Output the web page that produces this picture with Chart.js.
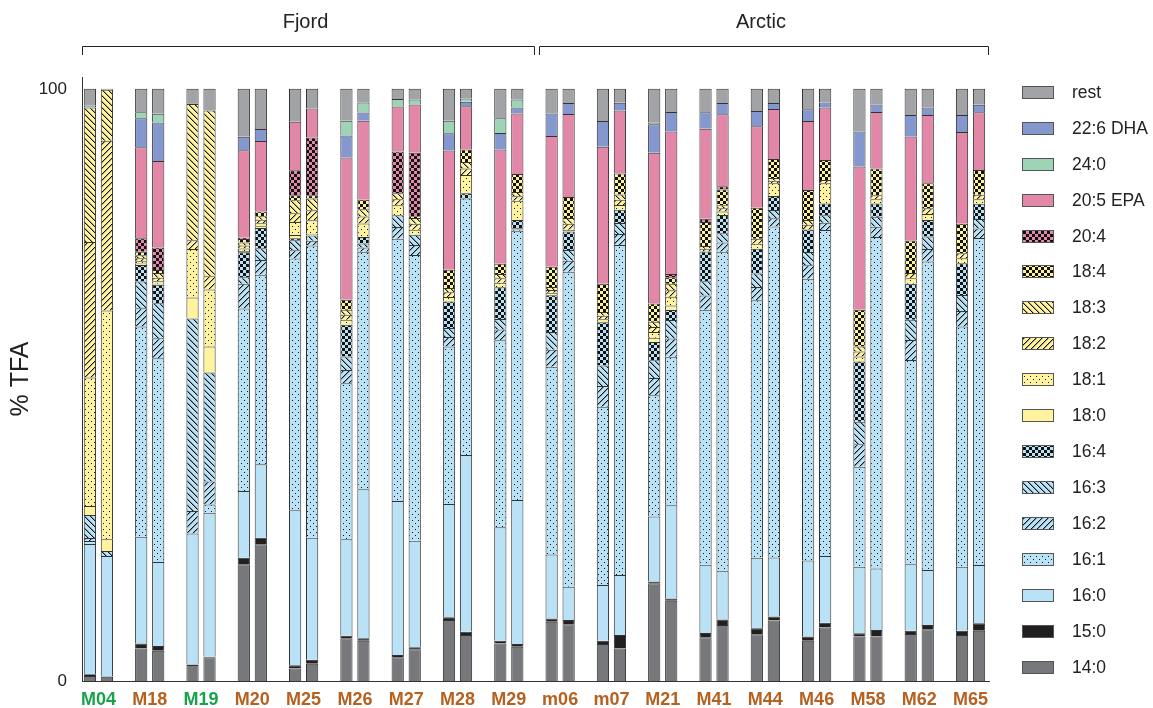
<!DOCTYPE html>
<html>
<head>
<meta charset="utf-8">
<script src="https://cdn.jsdelivr.net/npm/chart.js@4/dist/chart.umd.min.js"></script>
<style>
  html, body { margin: 0; padding: 0; background: #ffffff; }
  canvas { display: block; }
</style>
</head>
<body>
<canvas id="chart" width="1153" height="708"></canvas>
<script>
// Sample groups (two replicate bars each) and their label colours
const groups = ['M04','M18','M19','M20','M25','M26','M27','M28','M29',
                'm06','m07','M21','M41','M44','M46','M58','M62','M65'];
const groupColors = ['#16a34a','#b5611f','#16a34a','#b5611f','#b5611f','#b5611f','#b5611f','#b5611f','#b5611f',
                     '#b5611f','#b5611f','#b5611f','#b5611f','#b5611f','#b5611f','#b5611f','#b5611f','#b5611f'];
const regions = [
  { name: 'Fjord',  first: 0, last: 8 },
  { name: 'Arctic', first: 9, last: 17 }
];
const yTicks = [0, 100];

// % of total fatty acids; bar order: M04a, M04b, M18a, M18b, ... M65a, M65b
const fa14_0 = [0.85, 0.7, 5.5, 5.1, 2.7, 4.0, 19.7, 23.1, 2.1, 2.9, 7.2, 6.8, 4.0, 5.35, 10.3, 7.75, 6.35, 5.8,
                10.0, 9.6, 6.25, 5.5, 16.5, 13.55, 7.4, 9.45, 7.9, 10.2, 6.8, 9.05, 7.5, 7.5, 7.95, 8.75, 7.75, 8.5];
const fa15_0 = [0.3, 0.1, 0.85, 0.8, 0.1, 0.1, 1.1, 1.1, 0.55, 0.7, 0.45, 0.4, 0.4, 0.35, 0.45, 0.55, 0.45, 0.45,
                0.55, 0.7, 0.55, 2.25, 0.3, 0.4, 0.7, 0.95, 1.0, 0.7, 0.7, 0.8, 0.55, 1.1, 0.55, 0.7, 0.75, 1.25];
const fa16_0 = [22.0, 20.3, 18.0, 14.2, 22.1, 24.3, 11.3, 12.4, 26.2, 20.6, 16.3, 25.2, 26.0, 18.0, 19.15, 29.85, 19.15, 24.3,
                10.8, 5.6, 9.4, 10.15, 11.0, 15.75, 11.55, 8.2, 11.9, 9.95, 12.85, 11.25, 11.25, 10.4, 11.2, 9.3, 10.8, 9.85];
const fa16_1 = [0.5, 0, 35.5, 34.4, 0, 1.4, 30.8, 32.0, 42.5, 49.35, 26.35, 40.1, 44.3, 48.25, 26.6, 43.35, 31.6, 45.5,
                31.7, 53.2, 30.1, 55.75, 20.45, 25.05, 43.05, 53.9, 43.5, 55.9, 47.6, 55.05, 16.9, 56.0, 34.5, 52.1, 40.55, 55.2];
const fa16_2 = [0.5, 0, 3.1, 3.4, 3.8, 3.9, 4.2, 2.5, 1.4, 0.8, 2.2, 0.7, 1.95, 1.7, 1.6, 0, 1.8, 0.2,
                2.9, 1.85, 3.5, 1.85, 2.9, 3.1, 2.4, 1.55, 2.25, 1.4, 2.25, 1.25, 3.8, 1.7, 3.4, 2.1, 2.65, 1.6];
const fa16_3 = [3.9, 0.85, 4.5, 5.9, 32.5, 18.4, 1.1, 2.0, 1.7, 0.9, 2.3, 0.7, 2.0, 1.7, 1.5, 0, 1.8, 0.2,
                3.0, 1.85, 3.5, 1.85, 3.0, 3.1, 2.4, 1.55, 2.25, 1.4, 2.25, 1.25, 3.8, 1.7, 3.4, 2.1, 2.7, 1.6];
const fa16_4 = [0, 0, 2.8, 3.1, 0, 0, 4.2, 3.4, 0.3, 0, 5.35, 1.1, 0, 0, 4.5, 0.85, 5.35, 1.4,
                6.2, 3.1, 7.3, 2.25, 3.1, 1.7, 5.05, 3.1, 4.2, 2.35, 3.8, 2.0, 10.15, 2.25, 6.1, 2.8, 5.35, 2.6];
const fa18_0 = [1.5, 2.0, 0.25, 0.2, 3.55, 4.4, 0.2, 0.3, 0.55, 0.3, 0, 0, 0, 0, 0, 0, 0, 0,
                0, 0, 0, 0, 0.7, 0.75, 0, 0, 0, 0, 0, 0, 0, 0, 0, 0, 0, 0];
const fa18_1 = [21.7, 38.6, 0.4, 0.4, 8.2, 9.6, 0.45, 0.5, 2.2, 2.25, 0.85, 2.25, 1.7, 0.85, 0.75, 3.1, 0.75, 3.25,
                0.4, 0.3, 0.5, 0.8, 1.0, 1.5, 0, 0.6, 0.85, 2.15, 0, 3.4, 0.85, 0.7, 0.9, 1.0, 0.85, 0.75];
const fa18_2 = [22.9, 28.7, 0.5, 0.6, 1.5, 2.25, 0.5, 0.6, 1.5, 1.7, 0.85, 1.2, 1.0, 1.0, 0.8, 1.1, 0.75, 0.75,
                0.5, 1.0, 0.6, 0.85, 0.85, 1.1, 0.45, 0.55, 0.85, 0.45, 0.8, 0.55, 0.85, 0.7, 0.9, 1.0, 0.85, 0.75];
const fa18_3 = [22.7, 8.6, 0.5, 0.8, 23.0, 28.0, 0.5, 0.6, 2.2, 2.0, 0.85, 1.2, 1.0, 1.0, 0.7, 1.1, 0.75, 0.75,
                0.5, 1.0, 0.6, 0.9, 0.85, 1.1, 0.45, 0.5, 0, 0.45, 0.8, 0, 0.85, 0, 0, 0, 0, 0];
const fa18_4 = [0, 0, 0.6, 0.5, 0, 0, 0.6, 0.8, 0.85, 0.55, 1.7, 1.6, 0, 0.3, 3.1, 2.1, 1.7, 3.0,
                3.4, 3.55, 4.8, 3.55, 3.1, 1.1, 4.05, 2.65, 5.2, 3.2, 5.05, 3.4, 6.2, 4.5, 5.5, 4.2, 4.95, 4.2];
const fa20_4 = [0, 0, 2.25, 3.8, 0, 0, 0.2, 0, 4.2, 9.75, 0, 0, 7.05, 10.7, 0, 0, 0, 0,
                0, 0, 0, 0, 0, 0.55, 0.55, 0.55, 0, 0, 0, 0, 0, 0, 0, 0, 0, 0];
const fa20_5 = [0, 0, 15.4, 14.6, 0, 0, 14.8, 11.9, 8.2, 4.9, 24.0, 13.35, 7.6, 8.15, 20.15, 7.3, 19.3, 10.25,
                22.1, 14.0, 23.1, 10.65, 25.45, 24.05, 15.2, 12.15, 13.8, 8.45, 11.65, 8.85, 24.2, 9.55, 17.55, 11.55, 15.5, 9.75];
const fa22_6 = [0, 0, 4.9, 6.5, 0, 0, 2.25, 2.0, 0, 0, 3.7, 1.4, 0, 0, 2.9, 0.75, 2.8, 1.0,
                3.8, 1.85, 4.35, 1.3, 4.8, 3.3, 2.8, 1.9, 2.55, 1.0, 2.0, 0.85, 5.9, 1.25, 3.65, 1.25, 2.9, 1.25];
const fa24_0 = [0.3, 0, 1.0, 1.5, 0.1, 0, 0, 0, 0, 0, 2.5, 1.7, 1.3, 0.85, 2.1, 0.55, 2.5, 1.35,
                0, 0, 0, 0, 0.3, 0, 0, 0, 0, 0, 0, 0, 0, 0, 0, 0, 0, 0];
const faRest = [2.85, 0.15, 3.95, 4.2, 2.45, 3.65, 8.1, 6.8, 5.55, 3.3, 5.4, 2.3, 1.7, 1.8, 5.4, 1.65, 4.95, 1.8,
                4.15, 2.4, 5.45, 2.35, 5.7, 3.9, 3.95, 2.4, 3.75, 2.4, 3.45, 2.3, 7.2, 2.65, 4.4, 3.15, 4.4, 2.7];

const FONT = "'Liberation Sans', Arial, Helvetica, sans-serif";
Chart.defaults.font.family = FONT;

const canvas = document.getElementById('chart');
const mainCtx = canvas.getContext('2d');

// Fill patterns: dots, hatching in both directions, checkerboard (pixel-crisp tiles)
function makeFill(base, pat) {
  if (!pat) return base;
  const s = 6;
  const c = document.createElement('canvas');
  c.width = s; c.height = s;
  const g = c.getContext('2d');
  g.fillStyle = base;
  g.fillRect(0, 0, s, s);
  const ink = '#111111';
  if (pat === 'dots') {
    g.fillStyle = ink;
    g.fillRect(1, 1, 1, 1);
    g.fillRect(4, 4, 1, 1);
  } else if (pat === 'check') {
    g.fillStyle = ink;
    g.fillRect(0, 0, 3, 3);
    g.fillRect(3, 3, 3, 3);
  } else if (pat === 'back' || pat === 'fwd') {
    for (let i = 0; i < s; i++) {
      const px = pat === 'back' ? i : s - 1 - i;
      g.fillStyle = ink;
      g.fillRect(px, i, 1, 1);
      g.fillStyle = 'rgba(17,17,17,0.35)';
      g.fillRect((px + 1) % s, i, 1, 1);
    }
  }
  return mainCtx.createPattern(c, 'repeat');
}

const BLUE = '#b9e2f6', YELLOW = '#fff39d', PINK = '#e287a7';

// Stack order, bottom to top
const components = [
  { label: '14:0',     values: fa14_0, base: '#77787b' },
  { label: '15:0',     values: fa15_0, base: '#221f20' },
  { label: '16:0',     values: fa16_0, base: BLUE },
  { label: '16:1',     values: fa16_1, base: BLUE, pat: 'dots' },
  { label: '16:2',     values: fa16_2, base: BLUE, pat: 'fwd' },
  { label: '16:3',     values: fa16_3, base: BLUE, pat: 'back' },
  { label: '16:4',     values: fa16_4, base: BLUE, pat: 'check' },
  { label: '18:0',     values: fa18_0, base: YELLOW },
  { label: '18:1',     values: fa18_1, base: YELLOW, pat: 'dots' },
  { label: '18:2',     values: fa18_2, base: YELLOW, pat: 'fwd' },
  { label: '18:3',     values: fa18_3, base: YELLOW, pat: 'back' },
  { label: '18:4',     values: fa18_4, base: YELLOW, pat: 'check' },
  { label: '20:4',     values: fa20_4, base: PINK, pat: 'check' },
  { label: '20:5 EPA', values: fa20_5, base: PINK },
  { label: '22:6 DHA', values: fa22_6, base: '#8597cf' },
  { label: '24:0',     values: fa24_0, base: '#9cd4b5' },
  { label: 'rest',     values: faRest, base: '#a1a3a6' }
];
components.forEach(c => { c.fill = makeFill(c.base, c.pat); });

const legendOrder = ['rest', '22:6 DHA', '24:0', '20:5 EPA', '20:4', '18:4', '18:3', '18:2', '18:1',
                     '18:0', '16:4', '16:3', '16:2', '16:1', '16:0', '15:0', '14:0'];

const datasets = [];
['a', 'b'].forEach((stack, s) => {
  components.forEach(comp => {
    datasets.push({
      label: comp.label,
      stack: stack,
      data: groups.map((g, i) => ({ x: i, y: comp.values[2 * i + s] })),
      backgroundColor: comp.fill,
      borderColor: '#333333',
      borderWidth: 1,
      borderSkipped: 'start',
      inflateAmount: 0,
      categoryPercentage: 0.663,
      barPercentage: 0.72
    });
  });
});

// Region brackets with titles above the bars
const bracketPlugin = {
  id: 'regionBrackets',
  afterDraw(chart) {
    const ctx = chart.ctx;
    const x = chart.scales.x;
    const yLine = 46.5, yTick = 55;
    ctx.save();
    ctx.strokeStyle = '#222';
    ctx.lineWidth = 1;
    ctx.fillStyle = '#222';
    ctx.font = '20px ' + FONT;
    ctx.textAlign = 'center';
    ctx.textBaseline = 'middle';
    regions.forEach((r, k) => {
      const left = k === 0 ? x.left : x.getPixelForValue(r.first - 0.5) + 4.5;
      const right = k === regions.length - 1 ? x.right : x.getPixelForValue(r.last + 0.5) + 0.5;
      ctx.beginPath();
      ctx.moveTo(left + 0.5, yTick);
      ctx.lineTo(left + 0.5, yLine);
      ctx.lineTo(right - 0.5, yLine);
      ctx.lineTo(right - 0.5, yTick);
      ctx.stroke();
      ctx.fillText(r.name, (left + right) / 2 - 3, 22);
    });
    ctx.restore();
  }
};

// Legend with patterned swatches on the right
const legendPlugin = {
  id: 'sideLegend',
  afterDraw(chart) {
    const ctx = chart.ctx;
    const x0 = 1022, w = 32, h = 13, top = 91.7, step = 35.95;
    ctx.save();
    ctx.font = '17.5px ' + FONT;
    ctx.textAlign = 'left';
    ctx.textBaseline = 'middle';
    legendOrder.forEach((name, i) => {
      const comp = components.find(c => c.label === name);
      const yc = Math.round(top + i * step);
      ctx.fillStyle = comp.fill;
      ctx.fillRect(x0, yc - 6, w, h);
      ctx.strokeStyle = '#555';
      ctx.lineWidth = 1;
      ctx.strokeRect(x0 + 0.5, yc - 5.5, w - 1, h - 1);
      ctx.fillStyle = '#222';
      ctx.fillText(name, 1072, yc + 1);
    });
    ctx.restore();
  }
};

new Chart(canvas, {
  type: 'bar',
  data: { datasets },
  plugins: [bracketPlugin, legendPlugin],
  options: {
    responsive: false,
    animation: false,
    layout: { padding: { left: 0, right: 164, top: 77, bottom: 0 } },
    plugins: { legend: { display: false }, tooltip: { enabled: false } },
    scales: {
      x: {
        type: 'linear',
        min: -0.32,
        max: 17.36,
        offset: false,
        grid: { display: false, drawTicks: false },
        border: { display: true, color: '#333', width: 1 },
        afterBuildTicks: s => { s.ticks = groups.map((g, i) => ({ value: i })); },
        afterFit: s => { s.height = 27; },
        ticks: {
          autoSkip: false,
          maxRotation: 0,
          minRotation: 0,
          padding: 8,
          font: { size: 18, weight: 'bold' },
          color: c => groupColors[c.index],
          callback: v => groups[v]
        }
      },
      y: {
        stacked: true,
        min: 0,
        max: 102,
        grid: { display: false, drawTicks: false },
        border: { display: true, color: '#333', width: 1 },
        afterBuildTicks: s => { s.ticks = yTicks.map(v => ({ value: v })); },
        afterFit: s => { s.width = 82; },
        ticks: { padding: 15, font: { size: 17 }, color: '#222' },
        title: { display: true, text: '% TFA', font: { size: 25 }, color: '#222', padding: { top: 6, bottom: 0 } }
      }
    }
  }
});
</script>
</body>
</html>
